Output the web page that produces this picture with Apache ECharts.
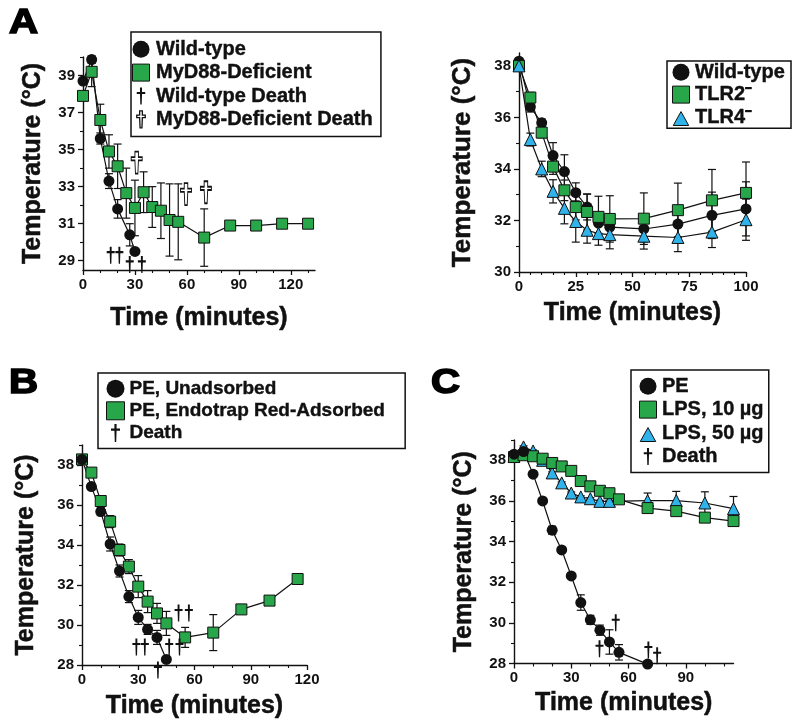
<!DOCTYPE html>
<html><head><meta charset="utf-8">
<script src="https://cdn.jsdelivr.net/npm/echarts@6/dist/echarts.min.js"></script>
<style>html,body{margin:0;padding:0;background:#fff}#c{width:800px;height:725px}</style>
</head><body><div id="c"></div>
<script>
// ---------- Panel A (left): Wild-type vs MyD88-deficient ----------
const aWtTime = [0, 5, 10, 15, 20, 27, 30];
const aWtTemp = [38.7, 39.86, 35.6, 33.3, 31.8, 30.4, 29.5];
const aWtErr  = [0, 0.2, 0.3, 0.4, 0.5, 0.6, 0];
const aMyTime = [0, 5, 10, 15, 20, 25, 30, 35, 40, 45, 50, 55, 70, 85, 100, 115, 130];
const aMyTemp = [37.9, 39.2, 36.6, 34.9, 34.1, 32.65, 31.85, 32.7, 31.9, 31.7, 31.2, 31.1, 30.25, 30.9, 30.9, 31.0, 31.0];
const aMyErr  = [0.2, 0.8, 0.85, 0.9, 1.2, 1.35, 1.5, 1.1, 1.1, 1.5, 1.95, 2.05, 1.55, 0, 0, 0, 0];
const aWtDeathTime = [16, 21, 27, 34];
const aWtDeathTemp = [29.3, 29.3, 28.8, 28.8];
const aMyDeathTime = [31, 59.5, 71];
const aMyDeathTemp = [34.3, 32.6, 32.7];
const aXLabels = [0, 30, 60, 90, 120];
const aXMinor  = [10, 20, 40, 50, 70, 80, 100, 110, 130];
const aYLabels = [29, 31, 33, 35, 37, 39];
const aYMinor  = [30, 32, 34, 36, 38, 40];

// ---------- Panel A (right): TLR ----------
const tTime   = [0, 5, 10, 15, 20, 25, 30, 35, 40, 55, 70, 85, 100];
const tWtTemp = [38.18, 36.41, 35.79, 34.52, 33.9, 33.08, 32.52, 31.9, 31.74, 31.67, 31.86, 32.2, 32.45];
const tWtErr  = [0.1, 0.2, 0.15, 0.5, 0.65, 0.38, 0.5, 0.4, 0.4, 0.5, 0.5, 0.9, 1.05];
const t2Temp  = [38.0, 36.77, 35.41, 34.09, 33.17, 32.52, 32.33, 32.14, 32.06, 32.07, 32.4, 32.78, 33.07];
const t2Err   = [0.1, 0.2, 0.2, 0.3, 0.4, 0.5, 0.7, 0.8, 0.9, 1.0, 1.05, 1.2, 1.2];
const t4Temp  = [38.0, 35.14, 34.0, 33.13, 32.47, 31.96, 31.62, 31.49, 31.45, 31.39, 31.34, 31.55, 32.03];
const t4Err   = [0.1, 0.25, 0.3, 0.45, 0.6, 0.8, 0.5, 0.45, 0.55, 0.5, 0.55, 0.6, 0.8];
const tXLabels = [0, 25, 50, 75, 100];
const tXMinor  = [5, 10, 15, 20, 30, 35, 40, 45, 55, 60, 65, 70, 80, 85, 90, 95];
const tYLabels = [30, 32, 34, 36, 38];
const tYMinor  = [31, 33, 35, 37];

// ---------- Panel B ----------
const bPeTime = [0, 5, 10, 15, 20, 25, 30, 35, 40, 45];
const bPeTemp = [38.28, 36.92, 35.67, 34.05, 32.7, 31.42, 30.38, 29.78, 29.38, 28.28];
const bPeErr  = [0.1, 0.15, 0.2, 0.35, 0.3, 0.3, 0.35, 0.25, 0.35, 0];
const bEnTime = [0, 5, 10, 15, 20, 25, 30, 35, 40, 45, 55, 70, 85, 100, 115];
const bEnTemp = [38.28, 37.62, 36.2, 35.17, 33.75, 32.92, 31.92, 31.17, 30.58, 30.08, 29.38, 29.62, 30.78, 31.22, 32.3];
const bEnErr  = [0.1, 0.15, 0.2, 0.3, 0.3, 0.35, 0.55, 0.55, 0.5, 0.6, 0.5, 0.9, 0, 0, 0];
const bDeathTime = [29, 33.5, 40.5, 46.5, 52, 51.5, 57];
const bDeathTemp = [28.9, 28.9, 27.75, 28.9, 28.9, 30.6, 30.6];
const bXLabels = [0, 30, 60, 90, 120];
const bXMinor  = [10, 20, 40, 50, 70, 80, 100, 110];
const bYLabels = [28, 30, 32, 34, 36, 38];
const bYMinor  = [29, 31, 33, 35, 37, 39];

// ---------- Panel C ----------
const cPeTime = [0, 5, 10, 15, 20, 25, 30, 35, 40, 45, 50, 55, 70];
const cPeTemp = [38.3, 38.43, 37.32, 36.0, 34.56, 33.59, 32.31, 31.0, 30.15, 29.64, 29.06, 28.55, 27.97];
const cPeErr  = [0.1, 0.1, 0.1, 0.1, 0.2, 0.1, 0.1, 0.38, 0.22, 0.25, 0.6, 0.38, 0];
const cL10Time = [0, 5, 10, 15, 20, 25, 30, 35, 40, 45, 50, 55, 70, 85, 100, 115];
const cL10Temp = [38.16, 38.25, 38.2, 38.08, 37.87, 37.7, 37.48, 36.98, 36.72, 36.5, 36.38, 36.08, 35.65, 35.5, 35.18, 35.01];
const cL10Err  = [0.05, 0.05, 0.05, 0.05, 0.05, 0.05, 0.05, 0.05, 0.05, 0.05, 0.05, 0.05, 0.1, 0.1, 0.1, 0.1];
const cL50Time = [0, 5, 10, 15, 20, 25, 30, 35, 40, 45, 50, 70, 85, 100, 115];
const cL50Temp = [38.2, 38.66, 38.46, 38.0, 37.38, 36.89, 36.39, 36.2, 36.11, 35.98, 35.98, 36.02, 36.02, 35.9, 35.62];
const cL50Err  = [0.05, 0.05, 0.05, 0.05, 0.05, 0.05, 0.05, 0.05, 0.05, 0.05, 0.05, 0.37, 0.45, 0.55, 0.6];
const cDeathTime = [53.3, 44.8, 70.4, 75];
const cDeathTemp = [30.0, 28.72, 28.66, 28.38];
const cXLabels = [0, 30, 60, 90];
const cXMinor  = [10, 20, 40, 50, 70, 80, 100, 110];
const cYLabels = [28, 30, 32, 34, 36, 38];
const cYMinor  = [29, 31, 33, 35, 37, 39];

// ---------- styling helpers ----------
const F = '"Liberation Sans", Arial, Helvetica, sans-serif';
const INK = '#111';
const GREEN = '#27a64a';
const BLUE = '#2fb3ea';
const DAGGER = 'path://M3.8,0 H6.2 V5.2 H10 V7.6 H6.2 L5.8,20 H4.2 L3.8,7.6 H0 V5.2 H3.8 Z';
const DAGGER_W = 'path://M3.4,0 H6.6 V5 H10 V8 H6.6 L6.1,20 H3.9 L3.4,8 H0 V5 H3.4 Z';
const SQUARE = 'path://M0,0 H10 V10 H0 Z';
const TRI_L = 'path://M0,-2 M5,0 L10,9 L0,9 Z';

const pairs = (t, v) => t.map((x, i) => [x, v[i]]);
const triples = (t, v, e) => t.map((x, i) => [x, v[i], e[i]]);

const nameStyle = (size) => ({ color: INK, fontSize: size, fontWeight: 'bold', fontFamily: F,
  textBorderColor: INK, textBorderWidth: 0.5 });

function mainX(grid, min, max, labels, name, gap) {
  return { type: 'value', gridIndex: grid, min, max, position: 'bottom',
    axisLine: { show: true, onZero: false, lineStyle: { color: INK, width: 1.4 } },
    axisTick: { show: true, length: 5, customValues: labels, lineStyle: { color: INK, width: 1.3 } },
    axisLabel: { show: true, customValues: labels, margin: 7, color: INK, fontSize: 15, fontWeight: 'bold', fontFamily: F },
    splitLine: { show: false },
    name, nameLocation: 'middle', nameGap: gap, nameTextStyle: nameStyle(25) };
}
function minorX(grid, min, max, ticks) {
  return { type: 'value', gridIndex: grid, min, max, position: 'bottom',
    axisLine: { show: false, onZero: false },
    axisTick: { show: true, length: 3, customValues: ticks, lineStyle: { color: INK, width: 1.1 } },
    axisLabel: { show: false }, splitLine: { show: false } };
}
function mainY(grid, min, max, labels, name, gap, size) {
  return { type: 'value', gridIndex: grid, min, max, position: 'left',
    axisLine: { show: true, onZero: false, lineStyle: { color: INK, width: 1.4 } },
    axisTick: { show: true, length: 5, customValues: labels, lineStyle: { color: INK, width: 1.3 } },
    axisLabel: { show: true, customValues: labels, margin: 8, color: INK, fontSize: 15, fontWeight: 'bold', fontFamily: F },
    splitLine: { show: false },
    name, nameLocation: 'middle', nameGap: gap, nameTextStyle: nameStyle(size || 25) };
}
function minorY(grid, min, max, ticks) {
  return { type: 'value', gridIndex: grid, min, max, position: 'left',
    axisLine: { show: false, onZero: false },
    axisTick: { show: true, length: 3, customValues: ticks, lineStyle: { color: INK, width: 1.1 } },
    axisLabel: { show: false }, splitLine: { show: false } };
}
function errRender(params, api) {
  const e = api.value(2);
  if (!e) return null;
  const x = api.value(0), y = api.value(1);
  const top = api.coord([x, y + e]), bot = api.coord([x, y - e]);
  const hw = 4, st = { stroke: INK, lineWidth: 1.2 };
  return { type: 'group', children: [
    { type: 'line', shape: { x1: top[0], y1: top[1], x2: bot[0], y2: bot[1] }, style: st },
    { type: 'line', shape: { x1: top[0] - hw, y1: top[1], x2: top[0] + hw, y2: top[1] }, style: st },
    { type: 'line', shape: { x1: bot[0] - hw, y1: bot[1], x2: bot[0] + hw, y2: bot[1] }, style: st } ] };
}
function errS(p, data) {
  return { type: 'custom', xAxisIndex: 2 * p, yAxisIndex: 2 * p, z: 1, silent: true, clip: false,
    encode: { x: 0, y: 1 }, data, renderItem: errRender };
}
function lineS(name, p, data, symbol, size, color, border) {
  return { type: 'line', name, xAxisIndex: 2 * p, yAxisIndex: 2 * p, data, symbol, symbolSize: size,
    showAllSymbol: true, clip: false, z: 2, silent: true,
    lineStyle: { color: INK, width: 1.2 },
    itemStyle: { color, borderColor: border ? INK : color, borderWidth: border ? 1 : 0, opacity: 1 } };
}
function deathS(name, p, data, path, size, fill) {
  return { type: 'scatter', name, xAxisIndex: 2 * p, yAxisIndex: 2 * p, data, symbol: path, symbolSize: size,
    clip: false, z: 3, silent: true,
    itemStyle: { color: fill, borderColor: INK, borderWidth: fill === '#fff' ? 1.3 : 0, opacity: 1 } };
}
const circleItem = (name) => ({ name, icon: 'circle', itemStyle: { color: INK, borderWidth: 0 } });
const squareItem = (name) => ({ name, icon: SQUARE, itemStyle: { color: GREEN, borderColor: INK, borderWidth: 1 } });
const triItem = (name) => ({ name, icon: TRI_L, itemStyle: { color: BLUE, borderColor: INK, borderWidth: 1 } });
const daggerItem = (name) => ({ name, icon: DAGGER, itemStyle: { color: INK, borderWidth: 0 } });
const daggerWItem = (name) => ({ name, icon: DAGGER_W, itemStyle: { color: '#fff', borderColor: INK, borderWidth: 1.3 } });
function legendBox(left, top, data, fs, iw, ih, gap, pad) {
  return { left, top, orient: 'vertical', selectedMode: false, data,
    itemWidth: iw, itemHeight: ih, itemGap: gap, padding: pad,
    borderColor: INK, borderWidth: 1.5, backgroundColor: '#fff', borderRadius: 0,
    textStyle: { color: INK, fontSize: fs, fontWeight: 'bold', fontFamily: F, textBorderColor: INK, textBorderWidth: 0.4 } };
}
function letter(t, x, y) {
  return { type: 'text', x, y, scaleX: 1.15, silent: true,
    style: { text: t, fill: '#000', stroke: '#000', lineWidth: 1.6, fontSize: 35, fontWeight: 'bold', fontFamily: F } };
}

const chart = echarts.init(document.getElementById('c'), null, { renderer: 'canvas', width: 800, height: 725 });
chart.setOption({
  backgroundColor: '#fff',
  animation: false,
  textStyle: { fontFamily: F },
  grid: [
    { left: 83, top: 57, width: 232, height: 213, outerBoundsMode: 'none' },
    { left: 519, top: 53, width: 227, height: 219, outerBoundsMode: 'none' },
    { left: 82, top: 445, width: 225, height: 220, outerBoundsMode: 'none' },
    { left: 514, top: 440, width: 219.5, height: 223.5, outerBoundsMode: 'none' }
  ],
  xAxis: [
    mainX(0, 0, 134, aXLabels, 'Time (minutes)', 36), minorX(0, 0, 134, aXMinor),
    mainX(1, 0, 100, tXLabels, 'Time (minutes)', 29), minorX(1, 0, 100, tXMinor),
    mainX(2, 0, 120, bXLabels, 'Time (minutes)', 29), minorX(2, 0, 120, bXMinor),
    mainX(3, 0, 115, cXLabels, 'Time (minutes)', 27), minorX(3, 0, 115, cXMinor)
  ],
  yAxis: [
    mainY(0, 28.5, 40, aYLabels, 'Temperature (°C)', 37), minorY(0, 28.5, 40, aYMinor),
    mainY(1, 30, 38.5, tYLabels, 'Temperature (°C)', 43, 26), minorY(1, 30, 38.5, tYMinor),
    mainY(2, 28, 39, bYLabels, 'Temperature (°C)', 43), minorY(2, 28, 39, bYMinor),
    mainY(3, 28, 39, cYLabels, 'Temperature (°C)', 37), minorY(3, 28, 39, cYMinor)
  ],
  legend: [
    legendBox(131, 32, [circleItem('Wild-type'), squareItem('MyD88-Deficient'), daggerItem('Wild-type Death'), daggerWItem('MyD88-Deficient Death')], 20, 20, 17, 3, [7, 8, 7, 1]),
    legendBox(667, 61, [circleItem('Wild-type'), squareItem('TLR2⁻'), triItem('TLR4⁻')], 20, 18, 17, 2, [1, 6, 1, 5]),
    legendBox(98, 373, [circleItem('PE, Unadsorbed'), squareItem('PE, Endotrap Red-Adsorbed'), daggerItem('Death')], 19, 18, 18, 2.7, [6, 20, 6, 8]),
    legendBox(631, 370, [circleItem('PE'), squareItem('LPS, 10 µg'), triItem('LPS, 50 µg'), daggerItem('Death')], 20, 18, 17, 3, [6, 5, 6, 8])
  ],
  series: [
    // Panel A left
    errS(0, triples(aWtTime, aWtTemp, aWtErr)),
    errS(0, triples(aMyTime, aMyTemp, aMyErr)),
    lineS('Wild-type', 0, pairs(aWtTime, aWtTemp), 'circle', 11, INK, false),
    lineS('MyD88-Deficient', 0, pairs(aMyTime, aMyTemp), 'rect', 11, GREEN, true),
    deathS('Wild-type Death', 0, pairs(aWtDeathTime, aWtDeathTemp), DAGGER, [8, 17], INK),
    deathS('MyD88-Deficient Death', 0, pairs(aMyDeathTime, aMyDeathTemp), DAGGER_W, [11, 22], '#fff'),
    // Panel A right
    errS(1, triples(tTime, tWtTemp, tWtErr)),
    errS(1, triples(tTime, t2Temp, t2Err)),
    errS(1, triples(tTime, t4Temp, t4Err)),
    lineS('Wild-type', 1, pairs(tTime, tWtTemp), 'circle', 11, INK, false),
    lineS('TLR2⁻', 1, pairs(tTime, t2Temp), 'rect', 11, GREEN, true),
    lineS('TLR4⁻', 1, pairs(tTime, t4Temp), 'triangle', 12, BLUE, true),
    // Panel B
    errS(2, triples(bEnTime, bEnTemp, bEnErr)),
    errS(2, triples(bPeTime, bPeTemp, bPeErr)),
    lineS('PE, Endotrap Red-Adsorbed', 2, pairs(bEnTime, bEnTemp), 'rect', 11, GREEN, true),
    lineS('PE, Unadsorbed', 2, pairs(bPeTime, bPeTemp), 'circle', 11, INK, false),
    deathS('Death', 2, pairs(bDeathTime, bDeathTemp), DAGGER, [8, 17], INK),
    // Panel C
    errS(3, triples(cL50Time, cL50Temp, cL50Err)),
    errS(3, triples(cL10Time, cL10Temp, cL10Err)),
    errS(3, triples(cPeTime, cPeTemp, cPeErr)),
    lineS('LPS, 50 µg', 3, pairs(cL50Time, cL50Temp), 'triangle', 12, BLUE, true),
    lineS('LPS, 10 µg', 3, pairs(cL10Time, cL10Temp), 'rect', 11, GREEN, true),
    lineS('PE', 3, pairs(cPeTime, cPeTemp), 'circle', 11, INK, false),
    deathS('Death', 3, pairs(cDeathTime, cDeathTemp), DAGGER, [8, 17], INK)
  ],
  graphic: [ letter('A', 9, 6), letter('B', 9, 366), letter('C', 431, 366) ]
});
</script></body></html>
